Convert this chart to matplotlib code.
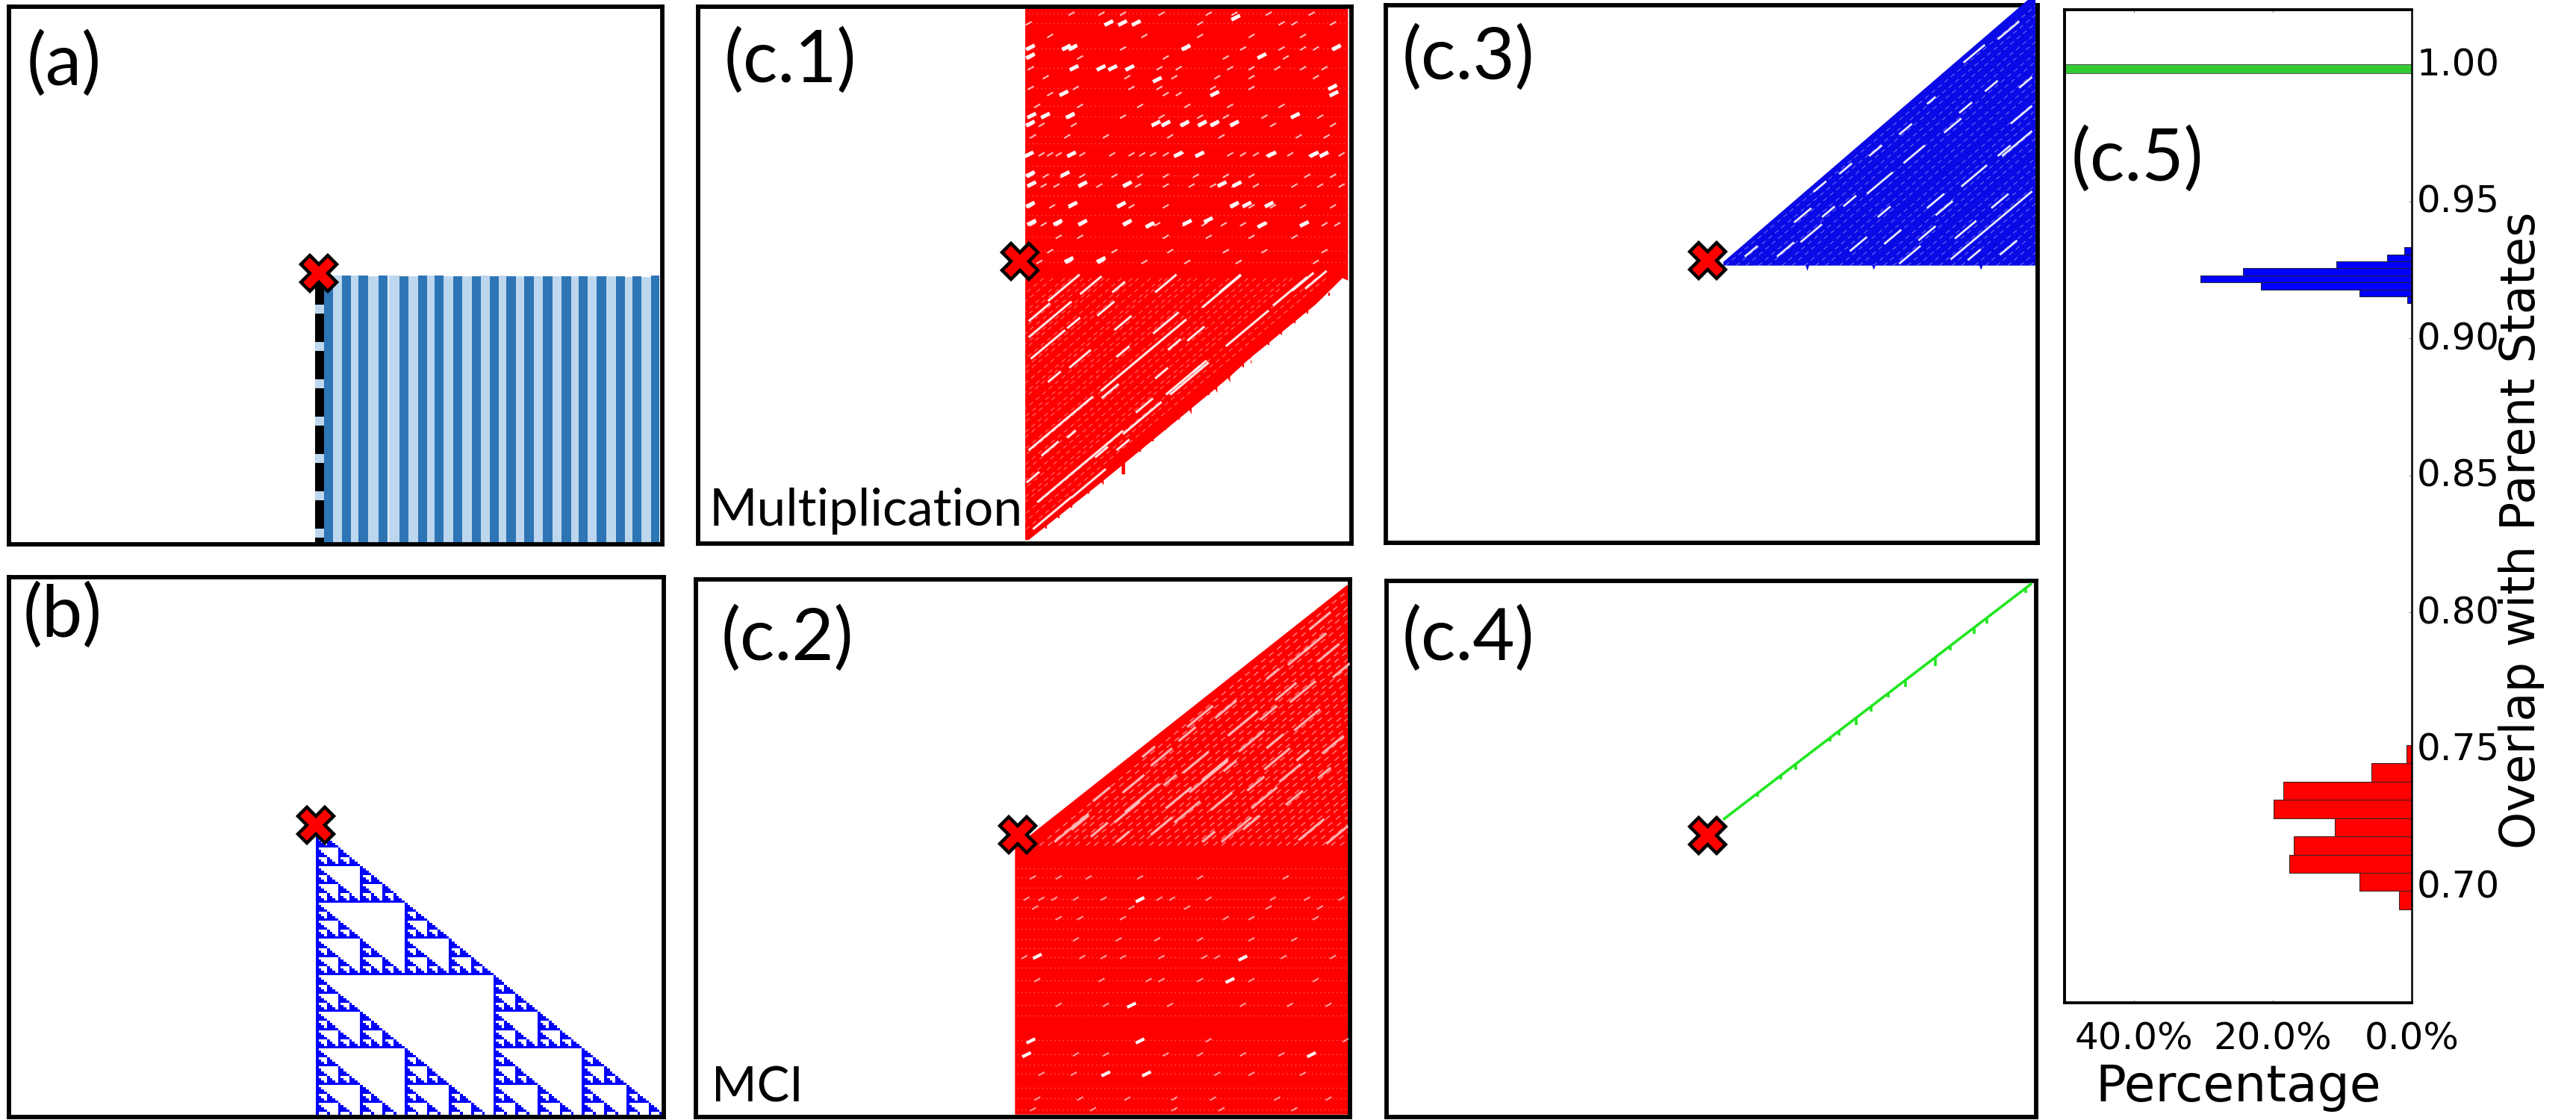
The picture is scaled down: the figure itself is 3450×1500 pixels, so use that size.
import numpy as np
import matplotlib
matplotlib.use("Agg")
import matplotlib.pyplot as plt
from matplotlib.collections import LineCollection
from matplotlib.transforms import ScaledTranslation

FIG_W, FIG_H = 3450, 1500
RED = "#ff0000"
BLUE = "#0a0ae6"
GREEN = "#1fe61f"

# (a) periodic state: column edges and heights of the alternating stripes
stripe_edges = [236, 269, 303, 337, 366, 400, 440, 475, 480, 520, 553, 588, 622, 650, 684, 720,
                754, 790, 824, 858, 892, 920, 955, 988, 1024, 1058, 1093, 1127, 1162, 1190,
                1225, 1258, 1294, 1330, 1365, 1393, 1427, 1462, 1495]
stripe_tops = [208, 208, 207, 208, 207, 209, 208, 208, 208, 209, 209, 208, 208, 208, 209, 209,
               209, 209, 208, 209, 208, 209, 209, 210, 210, 210, 209, 209, 209, 209,
               209, 210, 211, 210, 212, 211, 213, 207]
dash_tops = [323, 473, 623, 773, 923, 1073, 1223]
dash_bottoms = [360, 510, 660, 810, 960, 1110, 1260]

# (b) Sierpinski block map, one tile per character
sierpinski_blocks = [
    "1...............",
    "11..............",
    "1.1.............",
    "1111............",
    "1...1...........",
    "11..11..........",
    "1.1.1.1.........",
    "11111111........",
    "1.......1.......",
    "11......11......",
    "1.1.....1.1.....",
    "1111....1111....",
    "1...1...1...1...",
    "11..11..11..11..",
    "1.1.1.1.1.1.1.1.",
    "1111111111111111",
]
sierpinski_tile = [
    "1.......",
    "11......",
    "111.....",
    "1111....",
    "1...1...",
    "11..11..",
    "111.111.",
    "11111111",
]

# (c.1) multiplication: filled region, flecks per row, bright blobs, diagonal streaks
c1_region_x = [772, 1525, 1525, 1512, 1450, 1300, 1300, 1295, 1250, 1250, 1245, 1220, 1220, 1215, 1160, 1160, 1155,
               1005, 1005, 997, 997, 955, 955, 950, 780, 772]
c1_region_y = [22, 22, 782, 775, 848, 995, 1015, 1000, 1049, 1066, 1054, 1079, 1095, 1084, 1138, 1155, 1143,
               1290, 1322, 1322, 1298, 1339, 1352, 1344, 1505, 1505]
c1_tooth_x = [1480, 1430, 1400, 1370, 1340, 1280, 1200, 1130, 1100, 1070, 1040, 920, 880, 850, 820]
c1_tooth_y = [816, 865, 894, 924, 953, 1015, 1093, 1162, 1191, 1221, 1250, 1368, 1407, 1436, 1466]
c1_band_y = [38, 65, 100, 135, 160, 190, 215, 245, 262, 295, 325, 348, 380, 430, 490, 517, 575, 625, 660, 700, 730]
c1_band_x = [
    [880, 950, 1000, 1090, 1200, 1260, 1340, 1440],
    [780, 965, 1000, 1030, 1180, 1370, 1400, 1490],
    [1050, 1180, 1300, 830, 1420],
    [785, 870, 885, 1000, 1150, 1280, 1370, 1420, 1450, 1500],
    [785, 1100, 1240, 900, 1380],
    [785, 885, 950, 975, 1015, 1085, 1130, 1250, 1300, 1360, 1420, 1470],
    [1010, 1120, 1220, 1300, 820, 1450],
    [785, 890, 1020, 1085, 1210, 1300, 1490],
    [830, 1100, 1130, 1215, 1490],
    [800, 900, 1150, 1250, 1040, 1370],
    [785, 820, 880, 1000, 1090, 1180, 1240, 1330, 1400, 1460],
    [785, 810, 885, 1075, 1100, 1145, 1185, 1215, 1260, 1350, 1490],
    [790, 870, 960, 1110, 1230, 1410, 1475],
    [785, 810, 830, 850, 880, 905, 975, 1020, 1045, 1070, 1100, 1135, 1180, 1250, 1280, 1310, 1340, 1390, 1440, 1470, 1510],
    [785, 820, 860, 905, 980, 1040, 1100, 1170, 1240, 1300, 1430, 1490],
    [785, 815, 845, 905, 945, 1010, 1035, 1100, 1160, 1210, 1260, 1310, 1400, 1460, 1510],
    [785, 835, 880, 995, 1020, 1100, 1260, 1300, 1350, 1420, 1490],
    [790, 815, 850, 905, 1010, 1060, 1080, 1145, 1190, 1235, 1280, 1330, 1420, 1470, 1500],
    [850, 900, 1100, 1200, 1300, 1400],
    [830, 980, 1110, 1240, 1330, 1470],
    [805, 875, 950, 1050, 1150, 1270, 1450],
]
c1_blob_x = [967, 999, 1031, 1263, 784, 868, 883, 1147, 1498, 784, 1324, 886, 949, 976, 1016, 1080, 1489, 1492,
             1214, 862, 787, 819, 877, 1402, 784, 1077, 1100, 1144, 1185, 1214, 1260, 781, 880, 1129, 1179, 1347,
             1446, 1469, 784, 865, 787, 906, 1010, 1231, 1266, 784, 883, 996, 1260, 1289, 1341, 787, 848, 906,
             1010, 1063, 1150, 1199, 1324, 1423, 874, 949]
c1_blob_y = [64, 64, 64, 49, 132, 132, 132, 132, 132, 156, 156, 189, 189, 189, 189, 222, 243, 261,
             261, 260, 322, 322, 322, 322, 344, 344, 344, 344, 344, 344, 344, 430, 430, 430, 430, 430,
             430, 430, 485, 485, 513, 513, 513, 513, 513, 570, 570, 570, 570, 570, 570, 620, 620, 620,
             620, 627, 620, 613, 627, 624, 724, 724]
c1_streak_x = [855, 1048, 1230, 900, 1045, 1140, 835, 920, 1155, 1290, 1390, 1450, 862, 925, 805, 830,
               825, 990, 1100, 1250, 1420, 885, 960, 1000, 1100, 840, 900, 830, 970, 1120, 1170, 1180,
               1000, 1050, 950, 1090, 880, 1300, 1000, 790]
c1_streak_y = [1180, 990, 812, 1300, 1165, 1060, 1430, 1347, 1055, 915, 812, 780, 802, 795, 870, 890,
               960, 800, 790, 790, 785, 900, 860, 900, 900, 1050, 1000, 1250, 1090, 960, 930, 1020,
               1240, 1130, 1260, 1040, 1210, 1000, 980, 1330]
c1_streak_len = [75, 100, 45, 100, 45, 40, 45, 40, 45, 50, 40, 25, 37, 25, 25, 50,
                 40, 15, 25, 25, 25, 15, 20, 20, 30, 15, 25, 20, 20, 15, 20, 15,
                 15, 20, 15, 15, 10, 15, 15, 15]
c1_hatch = [1590, 1612, 1640, 1655, 1683, 1702, 1731, 1744, 1772, 1797, 1812, 1840, 1866, 1879, 1911, 1933,
            1948, 1976, 1991, 2023, 2040, 2067, 2085, 2110, 2132, 2157, 2171, 2204, 2226, 2249]
c1_faint_rows = [38, 65, 135, 190, 245, 295, 325, 380, 400, 462, 490, 517, 545, 600, 660, 700, 730]

# (c.2) MCI
c2_region_x = [748, 748, 805, 1522, 1525, 1525]
c2_region_y = [1545, 790, 735, 50, 50, 1545]
c2_band_y = [875, 935, 960, 990, 1050, 1100, 1165, 1235, 1335, 1375, 1430, 1500, 1530]
c2_band_x = [
    [790, 850, 920, 1040, 1180, 1380],
    [775, 810, 840, 890, 955, 1040, 1085, 1115, 1200, 1350, 1430, 1510],
    [795, 1020, 1150, 1340, 1460],
    [850, 900, 1000, 1240, 1300, 1450],
    [890, 990, 1080, 1180, 1300, 1400],
    [770, 800, 905, 955, 1000, 1090, 1190, 1220, 1280, 1375, 1490],
    [800, 950, 1060, 1090, 1180, 1250, 1300, 1450],
    [850, 960, 1020, 1110, 1280, 1390, 1480],
    [785, 1040, 1200, 1520],
    [775, 890, 960, 1100, 1180, 1280, 1370, 1440],
    [810, 885, 960, 1055, 1220, 1300, 1420],
    [800, 900, 1010, 1120, 1210, 1360, 1480],
    [790, 930, 1120, 1230, 1400],
]
c2_blob_x = [1040, 800, 1280, 785, 1040, 775, 1440, 960, 1055, 1250, 1020]
c2_blob_y = [938, 1098, 1103, 1337, 1337, 1376, 1376, 1430, 1430, 1166, 1236]
c2_streak_x = [880, 945, 1010, 1025, 1045, 1090, 1130, 1150, 1170, 1200, 1215, 1265, 1300, 1300, 1355, 1360,
               1410, 1420, 1430, 1450, 1480, 1490, 1500, 1510, 1330, 1400, 1440, 1240, 1180, 1150, 1060, 1280,
               1380, 1350, 1460, 1230, 1090, 1000, 1200, 1390, 1470, 1110, 950, 900, 1310, 1420, 1250, 1340]
c2_streak_y = [735, 740, 690, 610, 650, 535, 650, 690, 550, 590, 570, 740, 490, 720, 490, 540,
               250, 350, 430, 210, 240, 500, 755, 290, 650, 650, 740, 400, 420, 470, 520, 440,
               350, 300, 150, 660, 730, 760, 760, 580, 580, 600, 640, 720, 610, 530, 560, 410]
c2_streak_len = [40, 20, 30, 25, 40, 25, 30, 30, 30, 45, 30, 35, 30, 20, 20, 30,
                 25, 30, 30, 25, 25, 25, 25, 20, 30, 20, 30, 25, 30, 20, 15, 35,
                 25, 15, 25, 25, 25, 15, 15, 25, 15, 15, 20, 20, 20, 15, 15, 20]
c2_hatch = [1590, 1610, 1635, 1652, 1674, 1699, 1718, 1742, 1761, 1783, 1806, 1822, 1847, 1869, 1888, 1912,
            1933, 1951, 1974, 1996, 2015, 2039, 2058, 2081, 2103, 2120, 2145, 2166, 2184, 2208, 2229, 2250, 2271, 2292]
c2_faint_rows = [850, 875, 905, 935, 960, 990, 1020, 1050, 1075, 1100, 1130, 1165, 1200, 1235, 1265, 1335, 1375, 1405, 1430, 1470, 1500, 1530]

# (c.3) blue cone
c3_region_x = [815, 1535, 1543, 1543, 1420, 1416, 1412, 1170, 1166, 1162, 1015, 1011, 1007, 815]
c3_region_y = [730, -10, -10, 740, 740, 752, 740, 740, 752, 740, 740, 755, 740, 740]
c3_streak_x = [880, 960, 1020, 1000, 1060, 1130, 1040, 1100, 1180, 1210, 1250, 1170, 1260, 1310, 1380, 1330,
               1400, 1470, 1500, 1510, 1400, 1480, 1440, 1350, 1300, 1240, 1380, 1460, 1520, 1480, 1400, 1290,
               1110, 1190, 970, 1440]
c3_streak_y = [700, 695, 650, 600, 590, 680, 520, 470, 510, 660, 710, 420, 430, 560, 640, 580,
               490, 420, 400, 320, 150, 85, 240, 350, 280, 360, 300, 560, 230, 690, 710, 650,
               560, 590, 560, 628]
c3_streak_len = [15, 20, 25, 20, 15, 20, 15, 15, 30, 20, 25, 15, 25, 20, 25, 20,
                 30, 15, 35, 25, 25, 25, 15, 20, 10, 15, 15, 20, 15, 20, 15, 20,
                 15, 15, 12, 95]
c3_hatch = [1560, 1585, 1608, 1637, 1660, 1692, 1715, 1744, 1770, 1793, 1826, 1851, 1872, 1905, 1929, 1951,
            1984, 2007, 2034, 2059, 2088, 2110, 2141, 2166, 2192, 2218, 2247, 2270]

# (c.4) green line and the short barbs hanging off it
c4_line_x = [815, 1535]
c4_line_y = [712, 45]
c4_barb_x = [895, 950, 985, 1065, 1085, 1125, 1160, 1200, 1240, 1310, 1345, 1400, 1430, 1520]
c4_barb_y = [638, 588, 556, 482, 464, 427, 395, 358, 321, 256, 224, 173, 145, 62]
c4_barb_len = [10, 10, 16, 10, 10, 18, 12, 10, 16, 22, 10, 14, 14, 10]

# crossing point in each panel
cross_a = (215, 198)
cross_b = (203, 165)
cross_c1 = (760, 728)
cross_c2 = (755, 755)
cross_c3 = (778, 727)
cross_c4 = (778, 757)

# (c.5) overlap histograms, bin edges and percentage of samples
green_edges = [0.9968, 1.0000]
green_pct = [100.0]
blue_edges = [0.9128, 0.91536, 0.91792, 0.92048, 0.92304, 0.9256, 0.92816, 0.93072, 0.9333]
blue_pct = [0.6, 7.5, 21.7, 30.4, 24.3, 10.9, 3.5, 1.05]
red_edges = [0.6917, 0.6983, 0.7050, 0.7116, 0.7183, 0.7249, 0.7316, 0.7382, 0.7449, 0.7515]
red_pct = [1.8, 7.5, 17.6, 17.0, 11.1, 19.9, 18.5, 5.85, 0.7]
x_ticks = [40, 20, 0]
x_tick_labels = ["40.0%", "20.0%", "0.0%"]
y_ticks = [0.70, 0.75, 0.80, 0.85, 0.90, 0.95, 1.00]
y_tick_labels = ["0.70", "0.75", "0.80", "0.85", "0.90", "0.95", "1.00"]


def panel(fig, left, top, right, bottom, xlim, ylim, lw=4.2):
    ax = fig.add_axes([left / FIG_W, 1 - bottom / FIG_H, (right - left) / FIG_W, (bottom - top) / FIG_H])
    ax.set_xlim(*xlim)
    ax.set_ylim(*ylim)
    ax.set_xticks([])
    ax.set_yticks([])
    for s in ax.spines.values():
        s.set_linewidth(lw)
    return ax


def label(fig, x, y, text, size=70, **kw):
    fig.text(x / FIG_W, 1 - y / FIG_H, text, fontsize=size, ha=kw.pop("ha", "center"),
             va=kw.pop("va", "center"), **kw)


def cross(ax, pos):
    ax.plot([pos[0]], [pos[1]], marker="X", ms=34, mfc=RED, mec="black", mew=3.2, ls="none",
            zorder=7, clip_on=False)


def streaks(ax, xs, ys, lens, lw=2.2, color="white", alpha=0.9, zorder=3):
    # every streak runs along the cone direction, up and to the right
    segs = [[(x - l, y + l), (x + l, y - l)] for x, y, l in zip(xs, ys, lens)]
    ax.add_collection(LineCollection(segs, colors=color, linewidths=lw, alpha=alpha, zorder=zorder))


def flecks(ax, band_y, band_x, size=7, lw=1.5, alpha=0.75):
    segs = []
    for y, xs in zip(band_y, band_x):
        for x in xs:
            segs.append([(x - size, y + size * 0.7), (x + size, y - size * 0.7)])
    ax.add_collection(LineCollection(segs, colors="white", linewidths=lw, alpha=alpha, zorder=3))


def blobs(ax, xs, ys, size=10, lw=3.6):
    segs = [[(x - size, y + 6), (x + size, y - 6)] for x, y in zip(xs, ys)]
    ax.add_collection(LineCollection(segs, colors="white", linewidths=lw, zorder=3))


def hatch(ax, offsets, y_top, y_bottom, clip, color="white", alpha=0.4, lw=0.9, zorder=2.5):
    # thin dashed lines of constant x + y, cut to the filled region
    segs = [[(s - y_bottom, y_bottom), (s - y_top, y_top)] for s in offsets]
    lc = LineCollection(segs, colors=color, linewidths=lw, alpha=alpha, linestyles=[(0, (5, 4))], zorder=zorder)
    ax.add_collection(lc)
    lc.set_clip_path(clip)


def faint_rows(ax, rows, x0, x1, alpha=0.35):
    ax.hlines(rows, x0, x1, colors="white", linewidth=1.0, alpha=alpha, linestyles=[(0, (1, 3))], zorder=2.5)


plt.rcParams["font.family"] = ["Lato", "DejaVu Sans"]
fig = plt.figure(figsize=(FIG_W / 100, FIG_H / 100), dpi=100, facecolor="white")

# (a)
ax = panel(fig, 11.5, 9, 887, 729, (-948, 1505), (1287, -873))
for i in range(len(stripe_tops)):
    w = stripe_edges[i + 1] - stripe_edges[i]
    if w < 10:
        c = "#e6eff8"
    elif i < 7:
        c = "#2e75b6" if i % 2 == 0 else "#bdd7ee"
    else:
        c = "#2e75b6" if i % 2 == 1 else "#bdd7ee"
    ax.bar(stripe_edges[i], 1287 - stripe_tops[i], bottom=stripe_tops[i], width=w, align="edge", color=c, lw=0)
ax.bar(202, 1287 - 220, bottom=220, width=34, align="edge", color="black", lw=0)
ax.bar([202] * len(dash_tops), np.array(dash_bottoms) - np.array(dash_tops), bottom=dash_tops, width=34,
       align="edge", color="#bdd7ee", lw=0)
cross(ax, cross_a)
label(fig, 86, 86, "(a)")

# (b)
ax = panel(fig, 11.5, 773, 889, 1496, (-948, 1509), (1338, -831))
blocks = np.array([[ch == "1" for ch in row] for row in sierpinski_blocks], dtype=int)
tile = np.array([[ch == "1" for ch in row] for row in sierpinski_tile], dtype=int)
cells = np.kron(blocks, tile).astype(float)
cells = np.ma.masked_where(cells == 0, cells)
ax.imshow(cells, extent=(205, 1535, 1355, 185), cmap=matplotlib.colors.ListedColormap(["#0000ff"]),
          interpolation="nearest", aspect="auto", zorder=2)
ax.set_xlim(-948, 1509)
ax.set_ylim(1338, -831)
cross(ax, cross_b)
label(fig, 84, 825, "(b)")

# (c.1)
ax = panel(fig, 935, 8.7, 1810, 728, (9, 1533), (1515, 18))
region = ax.fill(c1_region_x, c1_region_y, color=RED, lw=0, zorder=2)[0]
ax.vlines(c1_tooth_x, c1_tooth_y, np.array(c1_tooth_y) + 8, color=RED, lw=1.6, zorder=2)
faint_rows(ax, c1_faint_rows, 778, 1522)
hatch(ax, c1_hatch, 770, 1505, region)
flecks(ax, c1_band_y, c1_band_x)
blobs(ax, c1_blob_x, c1_blob_y)
streaks(ax, c1_streak_x, c1_streak_y, c1_streak_len)
cross(ax, cross_c1)
label(fig, 1058, 82, "(c.1)")
label(fig, 950, 704, "Multiplication", size=50, ha="left", va="baseline")

# (c.2)
ax = panel(fig, 932, 776, 1808, 1496, (3, 1530), (1552, 33))
region = ax.fill(c2_region_x, c2_region_y, color=RED, lw=0, zorder=2)[0]
faint_rows(ax, c2_faint_rows, 752, 1522, alpha=0.4)
hatch(ax, c2_hatch, 50, 785, region, color="#ffd0d0", alpha=0.6, lw=1.1)
flecks(ax, c2_band_y, c2_band_x, alpha=0.6)
blobs(ax, c2_blob_x, c2_blob_y, size=10, lw=3)
streaks(ax, c2_streak_x, c2_streak_y, c2_streak_len, lw=2.4, color="#ffc8c8", alpha=0.85)
cross(ax, cross_c2)
label(fig, 1054, 856, "(c.2)")
label(fig, 953, 1476, "MCI", size=47, ha="left", va="baseline")

# (c.3) runs slightly over the top of the frame
ax = panel(fig, 1855.5, 7, 2729, 727, (27, 1548), (1512, 15))
region = ax.fill(c3_region_x, c3_region_y, color=BLUE, lw=0, zorder=5)[0]
region.set_clip_on(False)
hatch(ax, c3_hatch, 0, 740, region, alpha=0.35, zorder=5.2)
streaks(ax, c3_streak_x, c3_streak_y, c3_streak_len, lw=2.0, zorder=5.5)
cross(ax, cross_c3)
label(fig, 1966, 78, "(c.3)")

# (c.4)
ax = panel(fig, 1857, 778, 2727, 1496, (30, 1545), (1552, 38))
ax.plot(c4_line_x, c4_line_y, color=GREEN, lw=2.6, zorder=3, solid_capstyle="butt")
ax.vlines(c4_barb_x, c4_barb_y, np.array(c4_barb_y) + np.array(c4_barb_len), color=GREEN, lw=2.6, zorder=3)
cross(ax, cross_c4)
label(fig, 1966, 856, "(c.4)")

# (c.5)
ax = panel(fig, 2765, 13, 3230, 1343, (50, 0), (0.6575, 1.02), lw=2.8)
ax.spines["right"].set_linewidth(1.8)
ax.barh(green_edges[:-1], green_pct, height=np.diff(green_edges), align="edge", color="#32cd32",
        edgecolor="#555555", lw=0.8, zorder=2)
ax.barh(blue_edges[:-1], blue_pct, height=np.diff(blue_edges), align="edge", color="#0000ff",
        edgecolor="#222244", lw=0.8, zorder=2)
ax.barh(red_edges[:-1], red_pct, height=np.diff(red_edges), align="edge", color="#ff0000",
        edgecolor="#442222", lw=0.8, zorder=2)
ax.set_xticks(x_ticks)
ax.set_xticklabels(x_tick_labels, fontsize=36, family="DejaVu Sans")
ax.set_yticks(y_ticks)
ax.set_yticklabels(y_tick_labels, fontsize=36, family="DejaVu Sans")
ax.yaxis.tick_right()
ax.tick_params(axis="x", which="both", direction="in", length=3, width=0.6, color="#777777", top=True, pad=18)
ax.tick_params(axis="y", which="both", direction="in", length=3, width=0.6, color="#777777", pad=5)
# tick labels sit a little above their ticks
up = ScaledTranslation(0, 4 / 100, fig.dpi_scale_trans)
for t in ax.get_yticklabels():
    t.set_transform(t.get_transform() + up)
label(fig, 2862, 214, "(c.5)")
label(fig, 2998, 1475, "Percentage", size=49, family="DejaVu Sans", va="baseline")
label(fig, 3377, 710, "Overlap with Parent States", size=46, family="DejaVu Sans", rotation=90)

fig.savefig("out.png", dpi=100)
